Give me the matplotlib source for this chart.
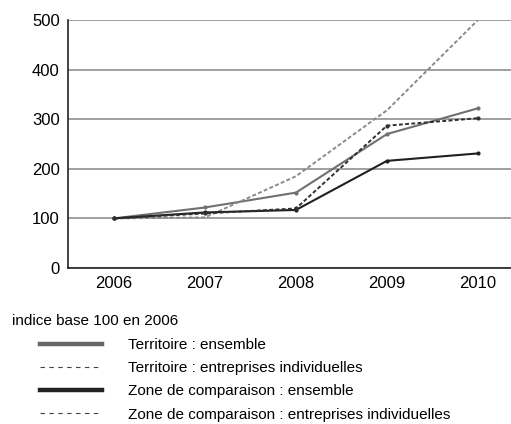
import matplotlib
matplotlib.use('Agg')
import matplotlib.pyplot as plt
from matplotlib.lines import Line2D

# indice base 100 en 2006
years = [2006, 2007, 2008, 2009, 2010]
terr_ensemble = [100, 122, 152, 270, 322]
terr_ei = [100, 102, 185, 318, 500]
zone_ensemble = [100, 112, 117, 216, 231]
zone_ei = [100, 110, 120, 287, 302]
labels = ['Territoire : ensemble',
          'Territoire : entreprises individuelles',
          'Zone de comparaison : ensemble',
          'Zone de comparaison : entreprises individuelles']

plt.rcParams['font.family'] = 'Liberation Sans'

fig = plt.figure(figsize=(5.11, 4.24), dpi=100)
ax = fig.add_axes([68/511, 1-268/424, 1-68/511, 248/424])

ax.plot(years, terr_ensemble, color='#707070', linewidth=1.5, marker='o', markersize=2)
ax.plot(years, terr_ei, color='#8a8a8a', linewidth=1.4, dashes=(2, 1.2))
ax.plot(years, zone_ensemble, color='#202020', linewidth=1.5, marker='o', markersize=2)
ax.plot(years, zone_ei, color='#303030', linewidth=1.4, dashes=(2, 1.2), marker='o', markersize=2)

ax.set_xlim(2005.495, 2010.363)
ax.set_ylim(0, 500)
ax.set_yticks([0, 100, 200, 300, 400, 500])
ax.set_xticks(years)
ax.tick_params(length=0, labelsize=12, pad=6)
ax.grid(axis='y', color='#999999', linewidth=1.3)
ax.set_axisbelow(True)
for s in ['top', 'right']:
    ax.spines[s].set_visible(False)
for s in ['left', 'bottom']:
    ax.spines[s].set_linewidth(1.2)
    ax.spines[s].set_color('#222222')

fig.text(12/511, 1-321/424, 'indice base 100 en 2006', fontsize=11, va='center', ha='left')

handles = [Line2D([], [], color='#666666', linewidth=3.2),
           Line2D([], [], color='#444444', linewidth=0.8, dashes=(4, 4)),
           Line2D([], [], color='#222222', linewidth=3.2),
           Line2D([], [], color='#444444', linewidth=0.8, dashes=(4, 4))]
fig.legend(handles, labels, loc='upper left', bbox_to_anchor=(40/511, 1-338/424),
           frameon=False, fontsize=11, handlelength=4.05, handletextpad=1.7,
           labelspacing=0.6, borderpad=0, borderaxespad=0)

plt.savefig('out.png', dpi=100)
